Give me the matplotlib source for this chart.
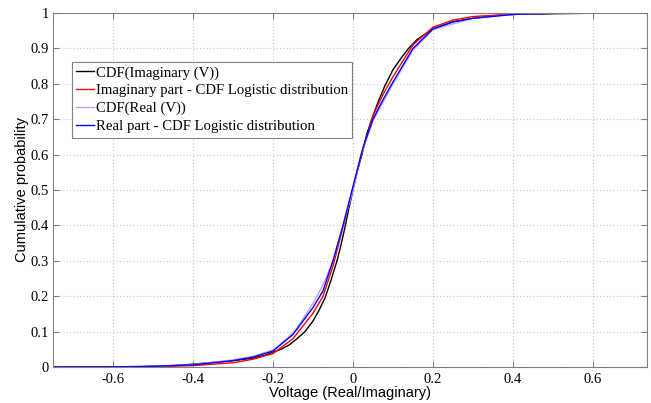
import matplotlib
matplotlib.use("Agg")
from matplotlib import pyplot as plt

# Fitted logistic CDFs
fit_x = [-0.75, -0.6, -0.5, -0.4, -0.3, -0.25, -0.2, -0.15, -0.1, -0.075, -0.05,
         -0.025, 0.0, 0.025, 0.05, 0.075, 0.1, 0.15, 0.2, 0.25, 0.3, 0.4, 0.5, 0.6]
imag_fit_y = [0.0, 0.0003, 0.001, 0.004, 0.012, 0.022, 0.038, 0.08, 0.152, 0.2, 0.285,
              0.395, 0.505, 0.615, 0.71, 0.77, 0.82, 0.91, 0.96, 0.98, 0.99, 0.997, 0.999, 1.0]
real_fit_y = [0.0, 0.0005, 0.002, 0.006, 0.018, 0.028, 0.045, 0.092, 0.168, 0.215, 0.30,
              0.40, 0.51, 0.62, 0.70, 0.755, 0.805, 0.90, 0.955, 0.975, 0.985, 0.996, 0.999, 1.0]

# Empirical CDF, imaginary part
imag_x = [-0.55, -0.5, -0.45, -0.4, -0.35, -0.3, -0.25, -0.22, -0.2, -0.18, -0.16, -0.14,
          -0.12, -0.1, -0.085, -0.07, -0.055, -0.04, -0.03, -0.02, -0.01, 0.0, 0.01, 0.022,
          0.035, 0.05, 0.065, 0.08, 0.1, 0.12, 0.139, 0.16, 0.2, 0.25, 0.3, 0.35, 0.4, 0.5, 0.57, 0.67]
imag_y = [0.0, 0.002, 0.004, 0.008, 0.013, 0.018, 0.025, 0.033, 0.042, 0.05, 0.062, 0.08,
          0.10, 0.13, 0.16, 0.195, 0.245, 0.30, 0.345, 0.395, 0.45, 0.50, 0.55, 0.60,
          0.66, 0.71, 0.755, 0.795, 0.84, 0.872, 0.90, 0.925, 0.955, 0.975, 0.985, 0.992, 0.996, 0.998, 0.999, 1.0]

# Empirical CDF, real part
real_x = [-0.6, -0.5, -0.4, -0.3, -0.25, -0.2, -0.16, -0.14, -0.12, -0.1, -0.085, -0.07,
          -0.05, -0.025, 0.0, 0.02, 0.05, 0.1, 0.15, 0.2, 0.3, 0.4, 0.5]
real_y = [0.0, 0.002, 0.007, 0.02, 0.03, 0.048, 0.085, 0.11, 0.145, 0.18, 0.21, 0.245,
          0.30, 0.40, 0.50, 0.60, 0.695, 0.80, 0.895, 0.953, 0.985, 0.996, 1.0]

x_ticks = [-0.6, -0.4, -0.2, 0, 0.2, 0.4, 0.6]
x_tick_labels = ["-0.6", "-0.4", "-0.2", "0", "0.2", "0.4", "0.6"]
y_ticks = [0, 0.1, 0.2, 0.3, 0.4, 0.5, 0.6, 0.7, 0.8, 0.9, 1]
y_tick_labels = ["0", "0.1", "0.2", "0.3", "0.4", "0.5", "0.6", "0.7", "0.8", "0.9", "1"]

fig = plt.figure(figsize=(6.51, 4.03), dpi=100)
ax = fig.add_axes([53 / 651, 36 / 403, 594 / 651, 354 / 403])

ax.plot(imag_x, imag_y, color="black", lw=1.0, label="CDF(Imaginary (V))")
ax.plot(fit_x, imag_fit_y, color="#ff0000", lw=1.0,
        label="Imaginary part - CDF Logistic distribution")
ax.plot(real_x, real_y, color="#c0a0f0", lw=1.0, label="CDF(Real (V))")
ax.plot(fit_x, real_fit_y, color="#0000ff", lw=1.0,
        label="Real part - CDF Logistic distribution")

ax.set_xlim(-0.75, 0.735)
ax.set_ylim(0, 1)
ax.set_xticks(x_ticks, x_tick_labels)
ax.set_yticks(y_ticks, y_tick_labels)
for lab in ax.get_xticklabels() + ax.get_yticklabels():
    lab.set_fontfamily("Liberation Serif")
    lab.set_fontsize(10.5)

ax.tick_params(direction="in", length=4, color="#808080", top=True, right=True)
ax.tick_params(axis="x", pad=4)
ax.tick_params(axis="y", pad=3)
for sp in ax.spines.values():
    sp.set_color("#808080")
    sp.set_linewidth(0.8)
ax.grid(True, linestyle=(0, (1, 2)), color="#c8c8c8", lw=0.8)

ax.set_xlabel("Voltage (Real/Imaginary)", family="Liberation Sans", fontsize=10.5, labelpad=0)
ax.set_ylabel("Cumulative probability", family="Liberation Sans", fontsize=10.5, labelpad=1)

leg = ax.legend(loc="upper left", bbox_to_anchor=(0.032, 0.862), borderaxespad=0,
                prop={"family": "Liberation Serif", "size": 10.6},
                handlelength=1.2, handletextpad=0.1, labelspacing=0.3,
                borderpad=0.3, fancybox=False, framealpha=1)
leg.get_frame().set_edgecolor("#808080")
leg.get_frame().set_linewidth(0.8)

fig.savefig("out.png", dpi=100)
